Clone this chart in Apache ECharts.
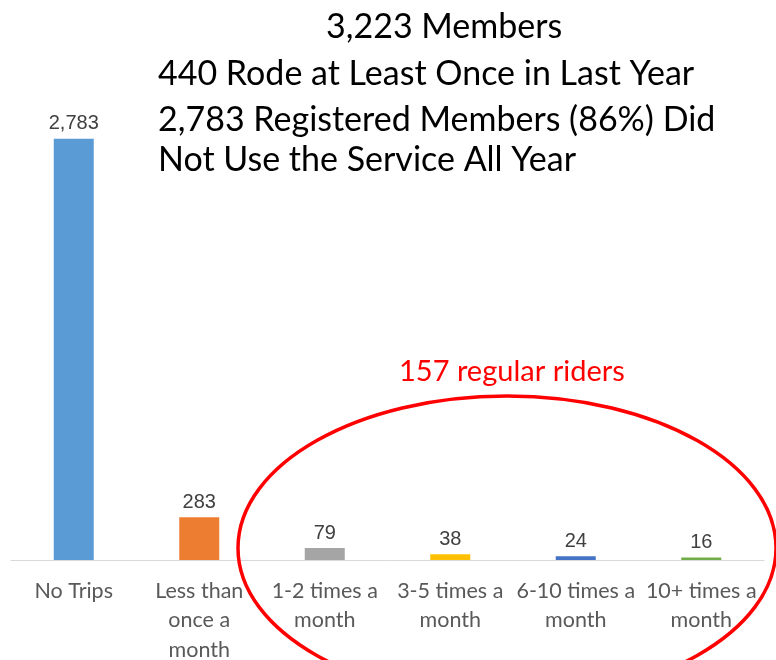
<!DOCTYPE html>
<html>
<head>
<meta charset="utf-8">
<script src="https://cdn.jsdelivr.net/npm/echarts@6/dist/echarts.min.js"></script>
<style>html,body{margin:0;padding:0;background:#fff}#c{width:776px;height:660px}</style>
</head>
<body>
<div id="c"></div>
<script>
var categories = ['No Trips', 'Less than\nonce a\nmonth', '1-2 times a\nmonth', '3-5 times a\nmonth', '6-10 times a\nmonth', '10+ times a\nmonth'];
var values = [2783, 283, 79, 38, 24, 16];
var barColors = ['#5B9BD5', '#ED7D31', '#A5A5A5', '#FFC000', '#4472C4', '#70AD47'];
var headline = '3,223 Members';
var notes = ['440 Rode at Least Once in Last Year', '2,783 Registered Members (86%) Did', 'Not Use the Service All Year'];
var callout = '157 regular riders';

var chart = echarts.init(document.getElementById('c'));
var titleFont = 'Lato, "Noto Sans", sans-serif';
chart.setOption({
  animation: false,
  grid: { left: 11, right: 12, top: 106, bottom: 100, outerBoundsMode: 'none', containLabel: false },
  xAxis: {
    type: 'category',
    data: categories,
    axisLine: { lineStyle: { color: '#D9D9D9', width: 1 } },
    axisTick: { show: false },
    axisLabel: { color: '#595959', fontSize: 21.5, fontFamily: titleFont, lineHeight: 29.5, margin: 16, interval: 0 }
  },
  yAxis: { type: 'value', min: 0, max: 3000, show: false, splitLine: { show: false } },
  series: [{
    type: 'bar',
    barWidth: 40,
    data: values.map(function (v, i) { return { value: v, itemStyle: { color: barColors[i] } }; }),
    label: {
      show: true, position: 'top', distance: 5,
      color: '#404040', fontSize: 20, fontFamily: '"Liberation Sans", Arial, sans-serif',
      formatter: function (p) { return p.value.toLocaleString('en-US'); }
    }
  }],
  graphic: [
    { type: 'text', left: 326, top: 10, style: { text: headline, fill: '#000', fontSize: 34, fontFamily: titleFont } },
    { type: 'text', left: 158, top: 57, style: { text: notes[0], fill: '#000', fontSize: 34, fontFamily: titleFont } },
    { type: 'text', left: 158, top: 100, style: { text: notes[1] + '\n' + notes[2], fill: '#000', fontSize: 34, fontFamily: titleFont, lineHeight: 40 } },
    { type: 'text', left: 399, top: 357, style: { text: callout, fill: '#FF0000', fontSize: 29, fontFamily: titleFont } },
    { type: 'ellipse', shape: { cx: 507, cy: 548, rx: 269, ry: 152 }, style: { fill: 'none', stroke: '#FF0000', lineWidth: 3.5 }, silent: true, z: 10 }
  ]
});
</script>
</body>
</html>
